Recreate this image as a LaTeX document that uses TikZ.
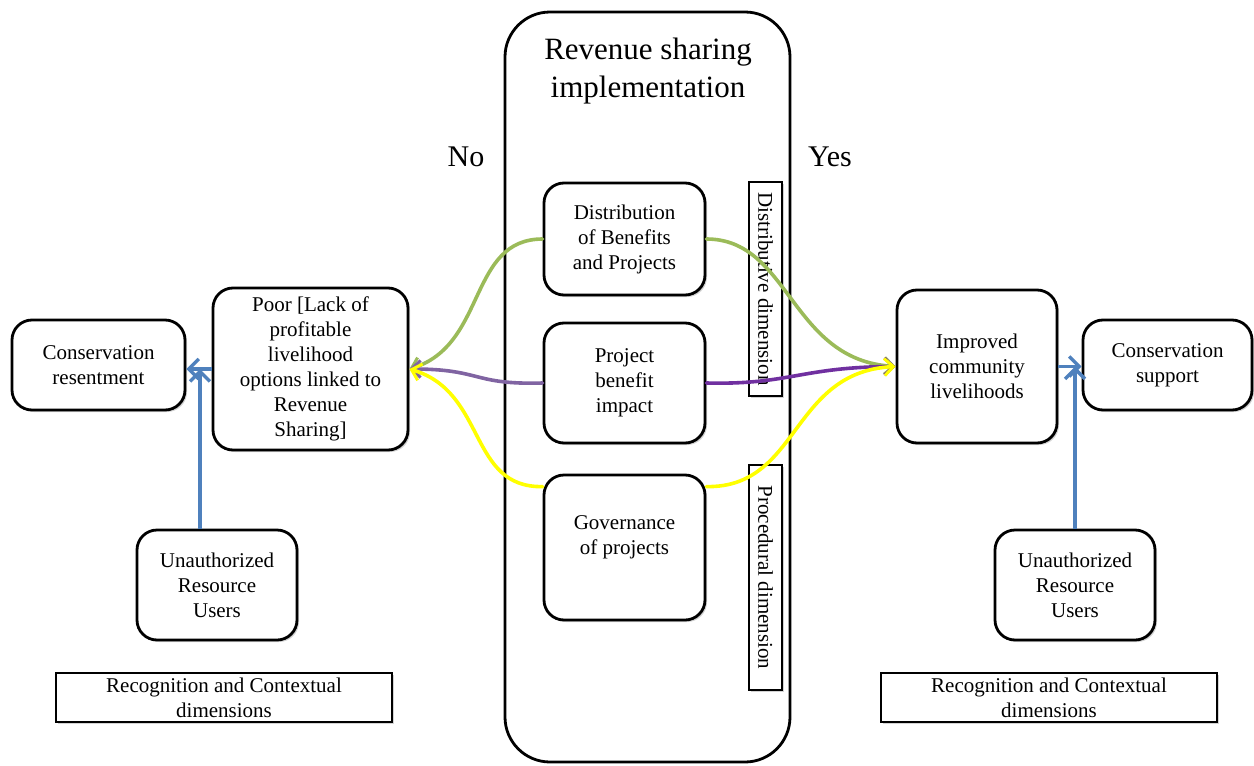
\documentclass[tikz,border=0pt]{standalone}
\usepackage{fontspec}
\setmainfont{LiberationSerif}[Extension=.ttf, UprightFont=*-Regular, BoldFont=*-Bold]
\usetikzlibrary{arrows.meta,shadows}

\definecolor{flowgreen}{HTML}{9BBB59}
\definecolor{flowpurple}{HTML}{8064A2}
\definecolor{flowviolet}{HTML}{7030A0}
\definecolor{flowyellow}{HTML}{FFFF00}
\definecolor{flowblue}{HTML}{4F81BD}

\begin{document}
\begin{tikzpicture}[x=1pt,y=-1pt,
  boxfont/.style={font=\rmfamily\fontsize{21}{25}\selectfont},
  softshadow/.style={drop shadow={shadow xshift=2pt,shadow yshift=-2pt,opacity=.35,fill=gray}},
  rbox/.style={draw, line width=2.8pt, rounded corners=20pt, fill=white,
    align=center, boxfont, inner sep=0pt, softshadow},
  dimbox/.style={draw, line width=1.2pt, fill=white, align=center, boxfont,
    inner sep=0pt, rotate=-90, softshadow},
  plainbox/.style={draw, line width=1.2pt, fill=white, align=center, boxfont,
    inner sep=0pt, softshadow},
  flow/.style={line width=3.6pt, line cap=round,
    -{Straight Barb[length=9pt,width=17pt,line width=3pt]}},
  bluearrow/.style={draw=flowblue, line width=3.2pt,
    -{Straight Barb[length=10pt,width=20pt,line width=3.4pt]}}
]
\useasboundingbox (0,0) rectangle (1254,766);

% central column
\node[draw, line width=2.8pt, rounded corners=45pt, fill=white,
  minimum width=285pt, minimum height=750pt, inner sep=0pt] (rs) at (647.5,387) {};
\node[align=center, font=\rmfamily\fontsize{31}{38}\selectfont] (title) at (648,71)
  {Revenue sharing\\implementation};

\node[font=\rmfamily\fontsize{30}{36}\selectfont] (no) at (466,157) {No};
\node[font=\rmfamily\fontsize{30}{36}\selectfont] (yes) at (830,157) {Yes};

\node[rbox, minimum width=161pt, minimum height=112pt] (dist) at (624.5,239)
  {Distribution\\of Benefits\\and Projects};
\node[rbox, minimum width=161pt, minimum height=120pt] (proj) at (624.5,383)
  {Project\\benefit\\impact};
\node[rbox, minimum width=161pt, minimum height=145pt] (gov) at (624.5,547.5) {};
\node[align=center, boxfont] (govtext) at (624.5,537) {Governance\\of projects};

\node[dimbox, minimum width=214pt, minimum height=33pt] (ddim) at (765.5,289)
  {Distributive dimension};
\node[dimbox, minimum width=225pt, minimum height=33pt] (pdim) at (765.5,577.5)
  {Procedural dimension};

% left side
\node[rbox, minimum width=173pt, minimum height=90pt] (cres) at (98.5,365)
  {Conservation\\resentment};
\node[rbox, minimum width=195pt, minimum height=162pt] (poor) at (310.5,369)
  {Poor [Lack of\\profitable\\livelihood\\options linked to\\Revenue\\Sharing]};
\node[rbox, minimum width=160pt, minimum height=110pt] (ua1) at (217,585)
  {Unauthorized\\Resource\\Users};
\node[plainbox, minimum width=336pt, minimum height=49pt] (rec1) at (224,697.5)
  {Recognition and Contextual\\dimensions};

% right side
\node[rbox, minimum width=160pt, minimum height=153pt] (imp) at (977,366.5)
  {Improved\\community\\livelihoods};
\node[rbox, minimum width=169pt, minimum height=90pt] (csup) at (1167.5,365)
  {Conservation\\support};
\node[rbox, minimum width=160pt, minimum height=110pt] (ua2) at (1075,585)
  {Unauthorized\\Resource\\Users};
\node[plainbox, minimum width=336pt, minimum height=49pt] (rec2) at (1049,697.5)
  {Recognition and Contextual\\dimensions};

% flows towards the "No" outcome
\draw[flow, draw=flowgreen] (dist.west) .. controls (468,239) and (487,345) .. (poor.east);
\draw[flow, draw=flowpurple] (proj.west) .. controls (472,385) and (482,369) .. (poor.east);
\draw[flow, draw=flowyellow] ([yshift=-13pt]gov.north west) .. controls (468,488) and (487,392) .. (poor.east);

% flows towards the "Yes" outcome
\draw[flow, draw=flowgreen] (dist.east) .. controls (790,239) and (790,360) .. (imp.west);
\draw[flow, draw=flowviolet] (proj.east) .. controls (790,385) and (800,367) .. (imp.west);
\draw[flow, draw=flowyellow] ([yshift=-13pt]gov.north east) .. controls (800,488) and (790,372) .. (imp.west);

% livelihood outcome and resource users feeding conservation attitude
\coordinate (jl) at (200,369);
\coordinate (jr) at (1075,366.5);
\draw[bluearrow] (poor.west) -- (poor.west -| cres.east);
\draw[bluearrow] (jl |- ua1.north) -- (jl);
\draw[bluearrow] (imp.east) -- (imp.east -| csup.west);
\draw[bluearrow] (jr |- ua2.north) -- (jr);
\end{tikzpicture}
\end{document}
